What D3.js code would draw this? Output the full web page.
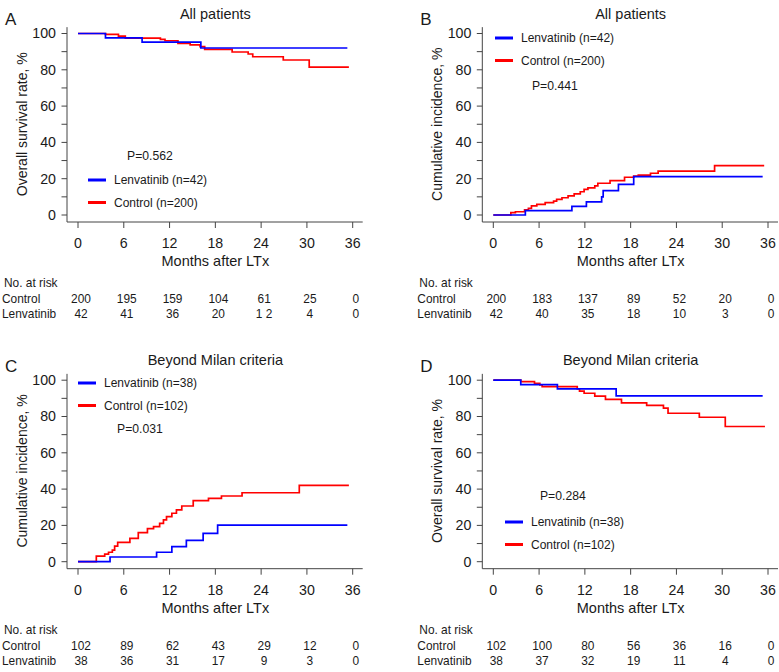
<!DOCTYPE html>
<html><head><meta charset="utf-8">
<script src="https://cdn.jsdelivr.net/npm/d3@7/dist/d3.min.js"></script>
<style>
html,body{margin:0;padding:0;background:#fff;}
svg text{font-family:"Liberation Sans",Arial,Helvetica,sans-serif;fill:#1a1a1a;}
</style></head>
<body><svg id="c" width="779" height="672"></svg>
<script>
// ---------- data ----------
const xTicks = [0, 6, 12, 18, 24, 30, 36];
const yTicks = [0, 10, 20, 30, 40, 50, 60, 70, 80, 90, 100];
const yLabels = [0, 20, 40, 60, 80, 100];
const groups = ["Lenvatinib", "Control"];

// A: overall survival, all patients
const aLenv = [[0,100],[3.6,97.6],[8.4,95.2],[16.1,92.0],[35.3,92.0]];
const aCtrl = [[0,100],[3.6,99.5],[5.3,98.6],[6.2,97.4],[10.8,96.8],[11.4,96.0],[13.1,94.6],[14.7,93.7],[16.0,92.8],[16.6,91.2],[20.2,89.8],[22.3,88.7],[22.9,87.2],[26.9,85.4],[30.3,81.5],[35.5,81.5]];
const aRiskCtrl = [200,195,159,104,61,25,0];
const aRiskLenv = [42,41,36,20,"1 2",4,0];

// B: cumulative incidence, all patients
const bLenv = [[0,0],[4.2,2.4],[10.3,4.8],[12.2,7.2],[14.2,10.0],[14.4,13.4],[16.4,16.9],[18.4,21.1],[35.3,21.1]];
const bCtrl = [[0,0],[2.3,1.3],[2.9,1.8],[4.1,2.8],[4.6,3.7],[5.0,5.0],[5.7,5.9],[6.8,6.8],[7.9,7.7],[8.3,8.6],[9.0,9.5],[9.8,10.5],[10.6,11.6],[11.4,12.8],[11.9,14.1],[12.4,15.0],[13.3,16.0],[13.7,17.5],[15.3,18.9],[17.2,20.8],[18.4,21.5],[19.0,22.0],[20.6,23.0],[21.6,24.2],[29.0,27.2],[35.5,27.2]];
const bRiskCtrl = [200,183,137,89,52,20,0];
const bRiskLenv = [42,40,35,18,10,3,0];

// C: cumulative incidence, beyond Milan
const cLenv = [[0,0],[4.2,2.6],[10.3,5.2],[12.3,8.3],[14.2,11.8],[16.4,15.6],[18.3,20.2],[35.3,20.2]];
const cCtrl = [[0,0],[2.4,3.1],[3.5,4.2],[4.0,5.2],[4.5,6.4],[4.8,8.6],[5.2,10.7],[6.8,12.9],[7.9,16.0],[9.1,18.2],[9.9,19.3],[10.7,21.1],[11.2,23.0],[11.6,24.8],[12.3,26.7],[12.9,28.5],[13.6,30.7],[15.1,33.6],[17.1,34.9],[18.8,36.2],[21.5,38.0],[29.0,42.1],[35.5,42.1]];
const cRiskCtrl = [102,89,62,43,29,12,0];
const cRiskLenv = [38,36,31,17,9,3,0];

// D: overall survival, beyond Milan
const dLenv = [[0,100],[3.6,97.6],[8.4,95.2],[16.1,91.4],[35.3,91.4]];
const dCtrl = [[0,100],[3.6,99.2],[5.4,98.3],[6.1,97.4],[6.4,96.5],[11.0,95.2],[11.3,94.0],[11.9,92.8],[13.3,91.2],[14.7,89.4],[16.8,87.5],[20.1,86.1],[22.3,84.6],[22.9,81.8],[27.0,79.6],[30.4,74.5],[35.6,74.5]];
const dRiskCtrl = [102,100,80,56,36,16,0];
const dRiskLenv = [38,37,32,19,11,4,0];

const panels = [
  {letter:"A", title:"All patients", ylab:"Overall survival rate, %", lenv:aLenv, ctrl:aCtrl, rc:aRiskCtrl, rl:aRiskLenv,
   nL:42, nC:200, p:"P=0.562", ox:0, oy:0, leg:{x:88,y:180,px:127,py:156}},
  {letter:"B", title:"All patients", ylab:"Cumulative incidence, %", lenv:bLenv, ctrl:bCtrl, rc:bRiskCtrl, rl:bRiskLenv,
   nL:42, nC:200, p:"P=0.441", ox:415.3, oy:0, leg:{x:79.7,y:38,px:116.7,py:86}},
  {letter:"C", title:"Beyond Milan criteria", ylab:"Cumulative incidence, %", lenv:cLenv, ctrl:cCtrl, rc:cRiskCtrl, rl:cRiskLenv,
   nL:38, nC:102, p:"P=0.031", ox:0, oy:346.7, leg:{x:78,y:36.3,px:117,py:82.3}},
  {letter:"D", title:"Beyond Milan criteria", ylab:"Overall survival rate, %", lenv:dLenv, ctrl:dCtrl, rc:dRiskCtrl, rl:dRiskLenv,
   nL:38, nC:102, p:"P=0.284", ox:415.3, oy:346.7, leg:{x:89.7,y:175.3,px:124.7,py:149.3}}
];

const svg = d3.select("#c");
const axisCol = "#444";
const colL = "#0000ff", colC = "#ff0000";
const tfs = 11.9;

panels.forEach(P => {
  const g = svg.append("g").attr("transform", `translate(${P.ox},${P.oy})`);
  const x = d3.scaleLinear().domain([0,36]).range([78, 352.7]);
  const y = d3.scaleLinear().domain([0,100]).range([215, 33.5]);
  const axX = 67, axY = 222;

  // letter & title
  g.append("text").attr("x", 5).attr("y", 25).attr("font-size", 17).text(P.letter);
  g.append("text").attr("x", (x(0)+x(36))/2).attr("y", 13.5).attr("dy","0.35em")
    .attr("text-anchor","middle").attr("font-size", 14.5).text(P.title);

  // y axis
  g.append("line").attr("x1", axX).attr("x2", axX).attr("y1", y(103.5)).attr("y2", axY)
    .attr("stroke", axisCol).attr("stroke-width", 1);
  yTicks.forEach(t => {
    g.append("line").attr("x1", axX-5.5).attr("x2", axX).attr("y1", y(t)).attr("y2", y(t))
      .attr("stroke", axisCol).attr("stroke-width", 1);
  });
  yLabels.forEach(t => {
    g.append("text").attr("x", axX-11).attr("y", y(t)).attr("dy","0.35em")
      .attr("text-anchor","end").attr("font-size", 14.2).text(t);
  });
  g.append("text").attr("transform", `translate(22,${(y(0)+y(100))/2}) rotate(-90)`)
    .attr("text-anchor","middle").attr("dy","0.35em").attr("font-size", 14).text(P.ylab);

  // x axis
  g.append("line").attr("x1", axX).attr("x2", x(36)+10).attr("y1", axY).attr("y2", axY)
    .attr("stroke", axisCol).attr("stroke-width", 1);
  xTicks.forEach(t => {
    g.append("line").attr("x1", x(t)).attr("x2", x(t)).attr("y1", axY).attr("y2", axY+6)
      .attr("stroke", axisCol).attr("stroke-width", 1);
    g.append("text").attr("x", x(t)).attr("y", y(0)+28).attr("dy","0.35em")
      .attr("text-anchor","middle").attr("font-size", 14.2).text(t);
  });
  g.append("text").attr("x", (x(0)+x(36))/2).attr("y", y(0)+46).attr("dy","0.35em")
    .attr("text-anchor","middle").attr("font-size", 14.5).text("Months after LTx");

  // curves
  const line = d3.line().x(d => x(d[0])).y(d => y(d[1])).curve(d3.curveStepAfter);
  g.append("path").datum(P.ctrl).attr("d", line).attr("fill","none").attr("stroke", colC).attr("stroke-width", 1.7);
  g.append("path").datum(P.lenv).attr("d", line).attr("fill","none").attr("stroke", colL).attr("stroke-width", 1.7);

  // legend
  const L = P.leg;
  [[groups[0]+` (n=${P.nL})`, colL, L.y], [groups[1]+` (n=${P.nC})`, colC, L.y + 22.5]].forEach(([txt,col,yy]) => {
    g.append("line").attr("x1", L.x).attr("x2", L.x+18).attr("y1", yy).attr("y2", yy)
      .attr("stroke", col).attr("stroke-width", 3);
    g.append("text").attr("x", L.x+26).attr("y", yy).attr("dy","0.35em").attr("font-size", 12).text(txt);
  });
  g.append("text").attr("x", L.px).attr("y", L.py).attr("dy","0.35em").attr("font-size", 12.2).text(P.p);

  // risk table
  const tl = x(0) - 76;
  g.append("text").attr("x", tl+2).attr("y", y(0)+68).attr("dy","0.35em").attr("font-size", tfs).text("No. at risk");
  g.append("text").attr("x", tl).attr("y", y(0)+84).attr("dy","0.35em").attr("font-size", tfs).text(groups[1]);
  g.append("text").attr("x", tl).attr("y", y(0)+99).attr("dy","0.35em").attr("font-size", tfs).text(groups[0]);
  xTicks.forEach((t,i) => {
    g.append("text").attr("x", x(t)+3).attr("y", y(0)+84).attr("dy","0.35em")
      .attr("text-anchor","middle").attr("font-size", tfs).text(P.rc[i]);
    g.append("text").attr("x", x(t)+3).attr("y", y(0)+99).attr("dy","0.35em")
      .attr("text-anchor","middle").attr("font-size", tfs).text(P.rl[i]);
  });
});
</script>
</body></html>
